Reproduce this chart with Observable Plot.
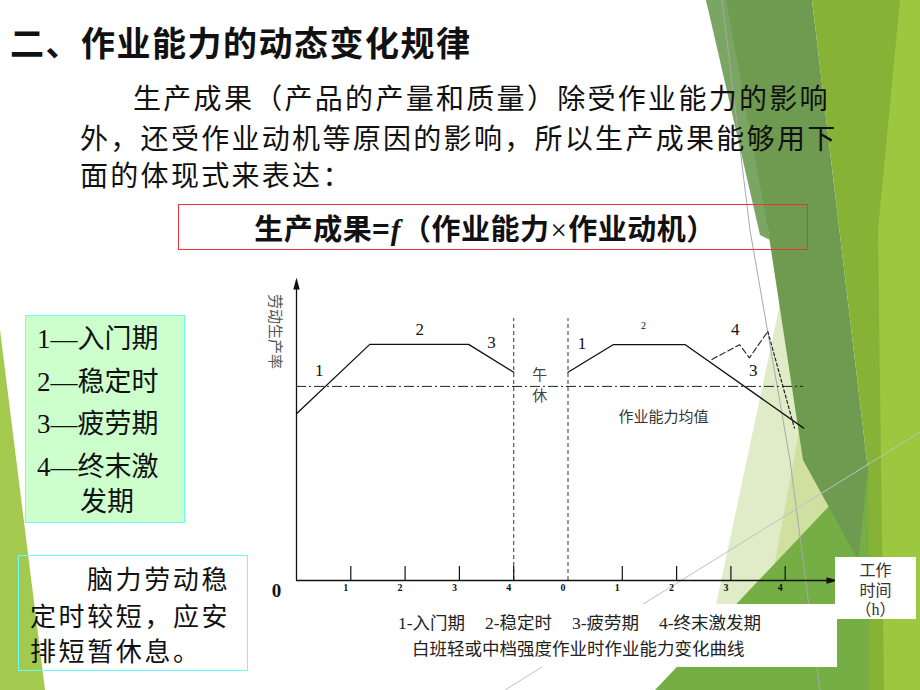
<!DOCTYPE html>
<html><head><meta charset="utf-8">
<script src="https://cdn.jsdelivr.net/npm/d3@7"></script>
<script src="https://cdn.jsdelivr.net/npm/@observablehq/plot@0.6"></script>
<style>
html,body{margin:0;padding:0;width:920px;height:690px;overflow:hidden;background:#fff;}
body{position:relative;font-family:"Noto Sans CJK SC",sans-serif;color:#111;}
.abs{position:absolute;white-space:pre;}
#deco{position:absolute;left:0;top:0;z-index:0;}
#title{left:10px;top:21px;font-size:34px;line-height:42px;font-weight:bold;letter-spacing:1.5px;}
.para{font-size:28px;line-height:38px;letter-spacing:2.3px;}
#formula{left:178px;top:204px;display:flex;align-items:center;justify-content:center;font-size:29px;font-weight:bold;letter-spacing:0.5px;padding-right:16px;box-sizing:border-box;width:630px;height:46px;border:1px solid #e8373a;}
#formula i{font-family:"Liberation Serif",serif;font-weight:bold;margin:0 1px;}
#formula .x{font-family:"Liberation Serif",serif;font-weight:normal;margin:0 1px;}
#legendBox{left:25px;top:315px;width:158px;height:206px;background:#ccffcc;border:1px solid #66ffff;}
.lg{font-family:"Liberation Serif","Noto Sans CJK SC",serif;font-size:27px;line-height:34px;}
#noteBox{left:18px;top:555px;width:228px;height:114px;border:1px solid #66ffff;}
.note{font-size:26px;line-height:30px;letter-spacing:2.6px;}
#chart{position:absolute;left:250px;top:265px;z-index:2;}
#capBox{left:380px;top:604px;width:457px;height:63px;background:#fff;z-index:3;}
.cap{font-family:"Liberation Serif","Noto Sans CJK SC",serif;font-size:17.5px;line-height:22px;color:#222;z-index:4;}
#unitBox{left:835px;top:557px;width:81px;height:62px;box-sizing:border-box;padding-top:4px;background:#fff;z-index:3;font-family:"Liberation Serif","Noto Sans CJK SC",serif;font-size:16px;line-height:19.5px;color:#333;text-align:center;}
</style>
</head><body>
<svg id="deco" width="920" height="690">
  <polygon points="0,330 45,690 0,690" fill="#a3c94f"/>
  <polygon points="785,280 698,690 880,690" fill="#e0ebc8"/>
  <polygon points="812,360 768,600 842,520" fill="#cfe0a0"/>
  <polygon points="920,410 920,690 655,690" fill="#74ae45"/>
  <polygon points="706,0 812,0 868,470 858,560 803,460 768,230" fill="#6e9b50"/>
  <polygon points="706,0 726,0 770,240 760,235" fill="#7aa562"/>
  <polygon points="812,0 920,0 920,690 870,690 868,470" fill="#86b335"/>
  <polygon points="900,0 920,0 920,690 884,690 878,230" fill="#9bc83f"/>
  <polyline points="722,0 750,230 790,460 820,690" fill="none" stroke="#a8a8a8" stroke-width="1"/>
  <line x1="505" y1="690" x2="920" y2="432" stroke="#c0c0c0" stroke-width="1"/>
</svg>

<div class="abs" id="title">二、作业能力的动态变化规律</div>
<div class="abs para" style="left:133px;top:78px;">生产成果（产品的产量和质量）除受作业能力的影响</div>
<div class="abs para" style="left:80px;top:118px;">外，还受作业动机等原因的影响，所以生产成果能够用下</div>
<div class="abs para" style="left:80px;top:155px;">面的体现式来表达：</div>
<div class="abs" id="formula"><span>生产成果=<i>f</i>（作业能力<span class="x">×</span>作业动机）</span></div>

<div class="abs" id="legendBox"></div>
<div class="abs lg" style="left:37px;top:322px;">1—入门期</div>
<div class="abs lg" style="left:37px;top:365px;">2—稳定时</div>
<div class="abs lg" style="left:37px;top:407px;">3—疲劳期</div>
<div class="abs lg" style="left:37px;top:450px;">4—终末激</div>
<div class="abs lg" style="left:80px;top:485px;">发期</div>

<div class="abs" id="noteBox"></div>
<div class="abs note" style="left:87px;top:563px;">脑力劳动稳</div>
<div class="abs note" style="left:30px;top:600px;">定时较短，应安</div>
<div class="abs note" style="left:30px;top:635px;">排短暂休息。</div>

<div id="chart"></div>
<div class="abs" id="capBox"></div>
<div class="abs cap" style="left:398px;top:612px;">1-入门期</div>
<div class="abs cap" style="left:485px;top:612px;">2-稳定时</div>
<div class="abs cap" style="left:572px;top:612px;">3-疲劳期</div>
<div class="abs cap" style="left:659px;top:612px;">4-终末激发期</div>
<div class="abs cap" style="left:412px;top:638px;">白班轻或中档强度作业时作业能力变化曲线</div>
<div class="abs" id="unitBox">工作<br>时间<br>（h）</div>

<script>
// ---- data (time in hours: morning 0–4, afternoon shown as 5–9 = 0–4) ----
const morningT = [0, 1.35, 3.17, 4.0];
const morningV = [55.6, 78.7, 78.7, 69.4];
const afternoonT = [5.0, 5.83, 7.16, 9.34];
const afternoonV = [69.4, 78.6, 78.6, 50.8];
const spurtT = [7.65, 8.16, 8.34, 8.68, 9.17];
const spurtV = [73.7, 78.6, 74.2, 83.0, 50.8];
const averageV = 64.7;
const averageEndT = 9.34;
const breakT = [4.0, 5.0];
const breakTopV = 87.3;
const tickT = [1, 2, 3, 4, 5, 6, 7, 8, 9];
const tickLabels = ["1", "2", "3", "4", "0", "1", "2", "3", "4"];
const tickMarkT = [1, 2, 3, 4, 6, 7, 8, 9];
const labelText = ["1", "2", "3", "午", "休", "1", "2", "4", "3"];
const labelT = [0.42, 2.27, 3.59, 4.48, 4.48, 5.26, 6.39, 8.08, 8.41];
const labelV = [70, 83.7, 79.3, 68.4, 61.4, 79.1, 85, 83.7, 70];
const meanLabel = "作业能力均值";
const meanLabelT = 6.76, meanLabelV = 54.4;
const yTitle = "劳动生产率";

const morning = morningT.map((t, i) => ({t, v: morningV[i]}));
const afternoon = afternoonT.map((t, i) => ({t, v: afternoonV[i]}));
const spurt = spurtT.map((t, i) => ({t, v: spurtV[i]}));
const labels = labelText.map((s, i) => ({s, t: labelT[i], v: labelV[i]}));

const arrowRight = {draw(ctx) { ctx.moveTo(6, 0); ctx.lineTo(-6, -3.2); ctx.lineTo(-6, 3.2); ctx.closePath(); }};
const arrowUp = {draw(ctx) { ctx.moveTo(0, -6); ctx.lineTo(-3.2, 6); ctx.lineTo(3.2, 6); ctx.closePath(); }};

const serif = "Liberation Serif, Noto Sans CJK SC, serif";
const chart = Plot.plot({
  width: 600, height: 340,
  marginLeft: 46, marginRight: 11, marginTop: 15, marginBottom: 25,
  x: {domain: [0, 10], range: [46, 589], label: null},
  y: {domain: [0, 100], range: [315, 15], axis: null, label: null},
  style: {background: "transparent", fontFamily: serif, overflow: "visible"},
  marks: [
    Plot.ruleY([averageV], {x1: 0, x2: averageEndT, stroke: "#222", strokeWidth: 1, strokeDasharray: "10,3,2,3"}),
    Plot.ruleX(breakT, {y1: 0, y2: breakTopV, stroke: "#555", strokeWidth: 1.2, strokeDasharray: "4,3"}),
    Plot.ruleX(tickMarkT, {y1: 0, y2: 4.7, stroke: "#111", strokeWidth: 1.2}),
    Plot.ruleY([0], {x1: 0, x2: 9.9, stroke: "#111", strokeWidth: 1.3}),
    Plot.ruleX([0], {y1: 0, y2: 99, stroke: "#111", strokeWidth: 1.3}),
    Plot.dot([{t: 9.87, v: 0}], {x: "t", y: "v", symbol: arrowRight, fill: "#111", stroke: null, r: 6}),
    Plot.dot([{t: 0, v: 99}], {x: "t", y: "v", symbol: arrowUp, fill: "#111", stroke: null, r: 6}),
    Plot.axisX({ticks: tickT, tickSize: 0, tickPadding: 3, label: null, tickFormat: d => tickLabels[tickT.indexOf(d)], fontSize: 10, fontWeight: "bold", dx: -5, fill: "#111"}),
    Plot.text(["0"], {x: -0.37, y: 0, dy: 10, text: d => d, fontSize: 19, fontWeight: "bold", fill: "#111"}),
    Plot.text([yTitle], {x: -0.405, y: 83, text: d => d, rotate: 90, fontSize: 15, fill: "#555", fontFamily: "Noto Sans CJK SC"}),
    Plot.line(morning, {x: "t", y: "v", stroke: "#111", strokeWidth: 1.3}),
    Plot.line(afternoon, {x: "t", y: "v", stroke: "#111", strokeWidth: 1.3}),
    Plot.line(spurt.slice(0, 4), {x: "t", y: "v", stroke: "#222", strokeWidth: 1.1, strokeDasharray: "6,3"}),
    Plot.line(spurt.slice(3), {x: "t", y: "v", stroke: "#222", strokeWidth: 1.2, strokeDasharray: "3,2.5"}),
    Plot.text(labels.filter((d, i) => i !== 6 && i !== 3 && i !== 4), {x: "t", y: "v", text: "s", fontSize: 17, fill: "#111"}),
    Plot.text(labels.filter((d, i) => i === 6), {x: "t", y: "v", text: "s", fontSize: 10, fill: "#111"}),
    Plot.text(labels.filter((d, i) => i === 3 || i === 4), {x: "t", y: "v", text: "s", fontSize: 15, fill: "#444", fontFamily: "Noto Sans CJK SC"}),
    Plot.text([meanLabel], {x: meanLabelT, y: meanLabelV, text: d => d, fontSize: 15, fill: "#333", fontFamily: "Noto Sans CJK SC"})
  ]
});
document.getElementById("chart").appendChild(chart);
</script>
</body></html>
